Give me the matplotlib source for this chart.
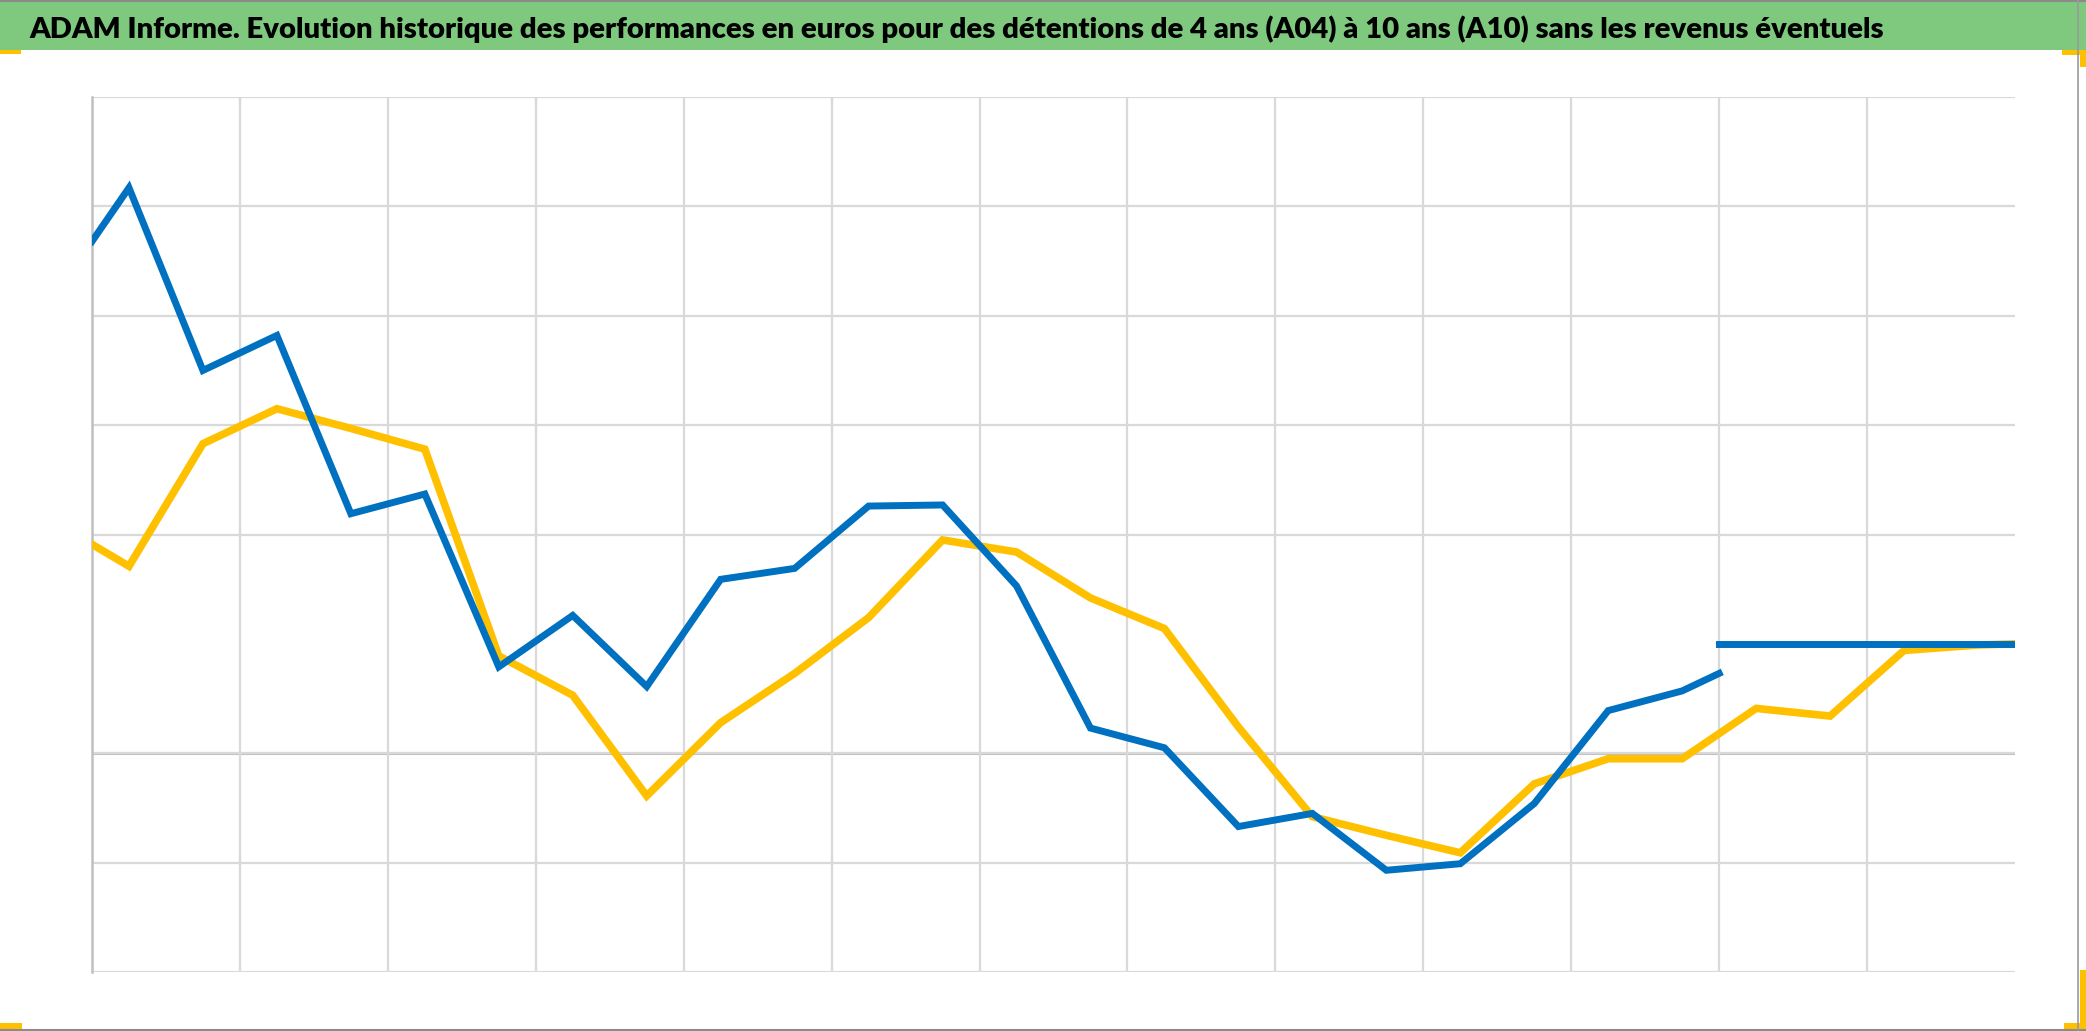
import matplotlib.pyplot as plt
from matplotlib.patches import Rectangle

# x in years (two years per vertical gridline), y in % (ten per gridline)
a04_years = [0.0, 0.5, 1.5, 2.5, 3.5, 4.5, 5.5, 6.5, 7.5, 8.5, 9.5, 10.5, 11.5,
             12.5, 13.5, 14.5, 15.5, 16.5, 17.5, 18.5, 19.5, 20.5, 21.5, 22.0]
a04_values = [46.8, 51.7, 35.0, 38.2, 21.9, 23.7, 7.9, 12.6, 6.1, 15.9, 16.9, 22.6, 22.7,
              15.3, 2.3, 0.5, -6.7, -5.5, -10.7, -10.1, -4.6, 3.9, 5.7, 7.3]
a04_tail_years = [22.0, 26.0]
a04_tail_values = [10.0, 10.0]

a10_years = [0.0, 0.5, 1.5, 2.5, 3.5, 4.5, 5.5, 6.5, 7.5, 8.5, 9.5, 10.5, 11.5, 12.5,
             13.5, 14.5, 15.5, 16.5, 17.5, 18.5, 19.5, 20.5, 21.5, 22.5, 23.5, 24.5,
             25.5, 26.0]
a10_values = [19.1, 17.1, 28.3, 31.5, 29.7, 27.8, 8.9, 5.3, -3.9, 2.8, 7.3, 12.4, 19.5, 18.4,
              14.2, 11.4, 2.4, -5.8, -7.5, -9.1, -2.8, -0.5, -0.5, 4.1, 3.4, 9.4,
              9.9, 10.0]

x_grid = list(range(0, 25, 2))
y_grid = [-20, -10, 0, 20, 30, 40, 50, 60]

title = ("ADAM Informe. Evolution historique des performances en euros pour des "
         "détentions de 4 ans (A04) à 10 ans (A10) sans les revenus éventuels")

BLUE = "#0070c0"
GOLD = "#ffc000"
W, H = 2086, 1031

fig = plt.figure(figsize=(W / 100, H / 100), dpi=100)
fig.patch.set_facecolor("white")

# green title bar and frame
fig.add_artist(Rectangle((0, 1 - 50 / H), 1, 50 / H, transform=fig.transFigure,
                         facecolor="#7ec97e", edgecolor="none"))
fig.add_artist(plt.Line2D([0, 1], [1 - 1 / H, 1 - 1 / H], transform=fig.transFigure,
                          color="#8a8a8a", lw=1.5))
fig.add_artist(plt.Line2D([0, 1], [1 / H, 1 / H], transform=fig.transFigure,
                          color="#8a8a8a", lw=1.5))
fig.add_artist(plt.Line2D([2078 / W, 2078 / W], [0, 1], transform=fig.transFigure,
                          color="#9a9a9a", lw=1.2))

# orange corner marks
for (x0, y0, w, h) in [(0, 50, 21, 4), (2062, 50, 24, 5), (2080, 50, 6, 17),
                       (0, 1023, 22, 7), (2064, 1023, 22, 7), (2080, 970, 6, 60)]:
    fig.add_artist(Rectangle((x0 / W, 1 - (y0 + h) / H), w / W, h / H,
                             transform=fig.transFigure, facecolor=GOLD, edgecolor="none"))

t = fig.text(29 / W, 1 - 38 / H, title, fontsize=22, fontweight="heavy",
             family="Lato", color="black", va="baseline", ha="left")
fig.canvas.draw()
bb = t.get_window_extent(fig.canvas.get_renderer())
t.set_fontsize(t.get_fontsize() * 1851 / bb.width)

ax = fig.add_axes([92 / W, 1 - 972 / H, (2015 - 92) / W, (972 - 97) / H])
ax.set_xlim(0, 26)
ax.set_ylim(-20, 60)
ax.set_xticks(x_grid)
ax.set_yticks(y_grid)
ax.grid(True, color="#d9d9d9", lw=1.6)
ax.tick_params(length=0, labelleft=False, labelbottom=False)
for s in ["top", "right", "bottom"]:
    ax.spines[s].set_visible(False)
ax.spines["left"].set_color("#c0c0c0")
ax.spines["left"].set_linewidth(1.8)
ax.axhline(0, color="#bfbfbf", lw=2.2, zorder=1)

ax.plot(a10_years, a10_values, color=GOLD, lw=5.5, solid_joinstyle="miter", zorder=3)
ax.plot(a04_years, a04_values, color=BLUE, lw=5, solid_joinstyle="miter", zorder=4)
ax.plot(a04_tail_years, a04_tail_values, color=BLUE, lw=5, zorder=4)

fig.savefig("out.png", dpi=100)
